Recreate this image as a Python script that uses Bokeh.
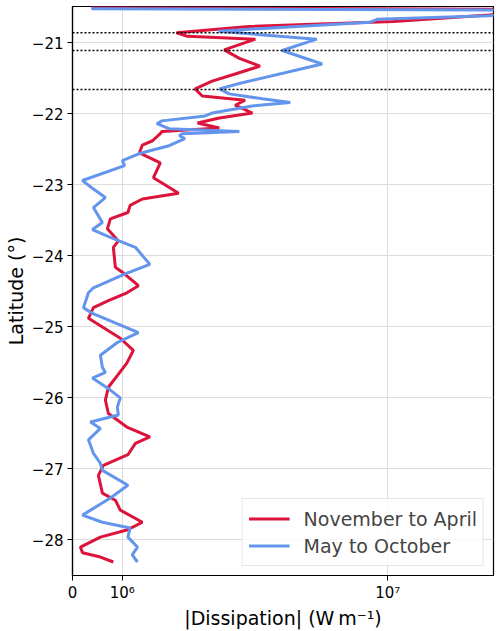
import numpy as np
from bokeh.plotting import figure
from bokeh.models import Range1d, FixedTicker, Span
from bokeh.embed import file_html
from bokeh.resources import INLINE

# ---------------- data ----------------
series_labels = ["November to April", "May to October"]

red_lat = [-20.505, -20.53, -20.61, -20.70, -20.77, -20.86, -20.91, -20.95, -21.10, -21.22,
           -21.33, -21.44, -21.54, -21.65, -21.75, -21.81, -21.88, -21.99, -22.06, -22.13,
           -22.20, -22.25, -22.28, -22.38, -22.44, -22.55, -22.69, -22.90, -23.12, -23.20,
           -23.29, -23.39, -23.48, -23.62, -23.79, -23.88, -24.16, -24.23, -24.42, -24.53,
           -24.63, -24.73, -24.88, -25.16, -25.33, -25.51, -25.85, -26.03, -26.22, -26.41,
           -26.55, -26.64, -26.80, -26.95, -27.09, -27.34, -27.44, -27.58, -27.75, -27.86,
           -27.96, -28.10, -28.18, -28.24, -28.31]
red_val = [0.38e6, 4.0e7, 2.4e7, 1.05e7, 3.0e6, 1.6e6, 1.76e6, 3.17e6, 2.42e6, 2.76e6,
           3.3e6, 2.66e6, 2.18e6, 1.88e6, 2.0e6, 2.9e6, 2.66e6, 3.09e6, 2.32e6, 1.92e6,
           2.32e6, 1.41e6, 1.39e6, 1.30e6, 1.19e6, 1.16e6, 1.39e6, 1.31e6, 1.63e6, 1.19e6,
           1.07e6, 1.05e6, 0.76e6, 0.70e6, 0.92e6, 0.82e6, 0.86e6, 1.0e6, 1.15e6, 1.03e6,
           0.72e6, 0.42e6, 0.32e6, 0.96e6, 1.10e6, 1.04e6, 0.72e6, 0.66e6, 0.72e6, 1.04e6,
           1.27e6, 1.12e6, 1.05e6, 0.62e6, 0.52e6, 0.60e6, 0.86e6, 0.96e6, 1.19e6, 1.04e6,
           0.56e6, 0.16e6, 0.20e6, 0.56e6, 0.82e6]

blue_lat = [-20.52, -20.54, -20.62, -20.67, -20.71, -20.81, -20.84, -20.95, -21.11, -21.30,
            -21.57, -21.65, -21.72, -21.79, -21.84, -21.89, -21.99, -22.03, -22.10, -22.14,
            -22.21, -22.25, -22.28, -22.31, -22.35, -22.45, -22.56, -22.66, -22.73, -22.94,
            -23.06, -23.18, -23.32, -23.53, -23.63, -23.74, -23.88, -24.12, -24.25, -24.45,
            -24.52, -24.73, -24.81, -25.08, -25.22, -25.40, -25.57, -25.64, -25.72, -25.89,
            -26.00, -26.13, -26.24, -26.34, -26.43, -26.59, -26.78, -26.92, -27.02, -27.23,
            -27.41, -27.65, -27.75, -27.83, -27.96, -28.10, -28.21, -28.31]
blue_val = [0.38e6, 4.0e7, 2.4e7, 9.1e6, 8.6e6, 3.0e6, 2.3e6, 5.4e6, 4.0e6, 5.66e6,
            2.78e6, 2.32e6, 2.53e6, 3.37e6, 4.29e6, 3.09e6, 2.18e6, 2.05e6, 1.41e6, 1.35e6,
            1.50e6, 2.76e6, 1.68e6, 1.64e6, 1.72e6, 1.50e6, 1.16e6, 1.0e6, 1.02e6, 0.20e6,
            0.42e6, 0.66e6, 0.42e6, 0.60e6, 0.40e6, 0.76e6, 1.12e6, 1.27e6, 1.03e6, 0.42e6,
            0.32e6, 0.22e6, 0.40e6, 1.15e6, 0.90e6, 0.56e6, 0.60e6, 0.66e6, 0.40e6, 0.76e6,
            0.96e6, 0.90e6, 0.92e6, 0.36e6, 0.56e6, 0.32e6, 0.42e6, 0.56e6, 0.60e6, 1.05e6,
            0.76e6, 0.20e6, 0.60e6, 1.07e6, 1.05e6, 1.14e6, 1.09e6, 1.14e6]

x_ticks = [0, 1e6, 1e7]
x_tick_labels = ["0", "10\u2076", "10\u2077"]
y_ticks = [-28, -27, -26, -25, -24, -23, -22, -21]
y_tick_labels = ["\u221228", "\u221227", "\u221226", "\u221225", "\u221224", "\u221223", "\u221222", "\u221221"]
dotted_lats = [-20.86, -21.11, -21.66]
x_max = 2.5e7
y_min, y_max = -28.5, -20.49

# ---------------- symmetric-log style x transform ----------------
LINTHRESH = 1e6
LINSCALE = 0.1876


def symlog(v):
    v = np.asarray(v, dtype=float)
    a = np.abs(v)
    out = np.where(a <= LINTHRESH, a / LINTHRESH * LINSCALE,
                   LINSCALE + np.log10(np.maximum(a, LINTHRESH) / LINTHRESH))
    return np.sign(v) * out


FONT = "DejaVu Sans"
RED = "#DC143C"
BLUE = "#6495ED"

p = figure(width=500, height=631, output_backend="svg", toolbar_location=None,
           x_range=Range1d(0, float(symlog(x_max))), y_range=Range1d(y_min, y_max),
           min_border_left=72, min_border_right=7, min_border_top=6, min_border_bottom=55)

p.line(symlog(red_val), red_lat, line_color=RED, line_width=3, legend_label=series_labels[0])
p.line(symlog(blue_val), blue_lat, line_color=BLUE, line_width=3, legend_label=series_labels[1])

for lat in dotted_lats:
    p.add_layout(Span(location=lat, dimension="width", line_color="black",
                      line_dash="2 2", line_width=1.5))

xt = [float(t) for t in symlog(x_ticks)]
p.xaxis.ticker = FixedTicker(ticks=xt)
p.xaxis.major_label_overrides = {t: lab for t, lab in zip(xt, x_tick_labels)}
p.yaxis.ticker = FixedTicker(ticks=y_ticks)
p.yaxis.major_label_overrides = {t: lab for t, lab in zip(y_ticks, y_tick_labels)}
p.xgrid.ticker = FixedTicker(ticks=xt)
p.ygrid.ticker = FixedTicker(ticks=y_ticks)

for g in (p.xgrid, p.ygrid):
    g.grid_line_color = "#dcdcdc"
    g.grid_line_width = 1

for ax in (p.xaxis, p.yaxis):
    ax.axis_line_color = "black"
    ax.axis_line_width = 1.2
    ax.major_tick_line_color = "black"
    ax.major_tick_out = 5
    ax.major_tick_in = 0
    ax.minor_tick_line_color = None
    ax.major_label_text_font = FONT
    ax.major_label_text_font_size = "15px"
    ax.major_label_text_color = "black"
    ax.axis_label_text_font = FONT
    ax.axis_label_text_font_size = "19px"
    ax.axis_label_text_font_style = "normal"
    ax.axis_label_text_color = "black"

p.xaxis.axis_label = "|Dissipation| (W\u2009m\u207b\u00b9)"
p.yaxis.axis_label = "Latitude (\u00b0)"
p.xaxis.axis_label_standoff = 2
p.yaxis.axis_label_standoff = 2
p.xaxis.major_label_standoff = 3
p.yaxis.major_label_standoff = 4

p.outline_line_color = "black"
p.outline_line_width = 1.2
p.background_fill_color = "white"
p.border_fill_color = "white"

lg = p.legend[0]
lg.location = "bottom_right"
lg.margin = 9
lg.padding = 6
lg.spacing = 0
lg.glyph_width = 41
lg.glyph_height = 27
lg.label_height = 27
lg.label_standoff = 14
lg.label_text_font = FONT
lg.label_text_font_size = "19px"
lg.border_line_color = "#cccccc"
lg.border_line_width = 1
lg.background_fill_alpha = 0.8

open("out.html", "w").write(file_html(p, INLINE))
